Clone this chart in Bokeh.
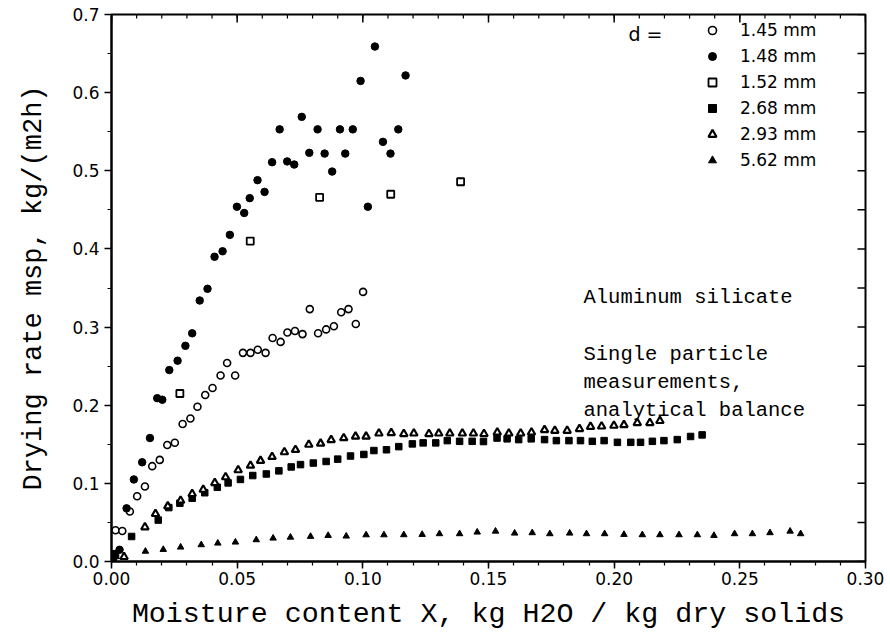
import math
from bokeh.plotting import figure
from bokeh.models import (Legend, LegendItem, Label, FixedTicker,
                          PrintfTickFormatter, Range1d)
from bokeh.embed import file_html
from bokeh.resources import INLINE

# ---------------- data ----------------
x_ticks = [0.0, 0.05, 0.10, 0.15, 0.20, 0.25, 0.30]
y_ticks = [0.0, 0.1, 0.2, 0.3, 0.4, 0.5, 0.6, 0.7]
x_minor = [i / 100 for i in range(31)]
y_minor = [i / 20 for i in range(15)]

labels = ["1.45 mm", "1.48 mm", "1.52 mm", "2.68 mm", "2.93 mm", "5.62 mm"]

x145 = [0.0016, 0.0043, 0.0073, 0.0102, 0.0133, 0.0162, 0.0192, 0.0222, 0.0252, 0.0283,
        0.0314, 0.0342, 0.0373, 0.0402, 0.0434, 0.046, 0.0492, 0.0523, 0.0553, 0.0582,
        0.0613, 0.0641, 0.0673, 0.070, 0.073, 0.076, 0.0789, 0.0822, 0.0854, 0.0885,
        0.0914, 0.0943, 0.0972, 0.1001]
y145 = [0.040, 0.039, 0.064, 0.0835, 0.096, 0.122, 0.130, 0.149, 0.152, 0.176,
        0.183, 0.198, 0.213, 0.222, 0.238, 0.254, 0.238, 0.267, 0.267, 0.271,
        0.267, 0.286, 0.281, 0.293, 0.295, 0.291, 0.323, 0.292, 0.297, 0.301,
        0.319, 0.323, 0.304, 0.345]

x148 = [0.0007, 0.0032, 0.006, 0.0089, 0.0122, 0.0153, 0.0182, 0.0202, 0.023, 0.0263,
        0.0294, 0.0321, 0.0351, 0.0382, 0.041, 0.0442, 0.0471, 0.0499, 0.0528, 0.055,
        0.0581, 0.0609, 0.0639, 0.0669, 0.0699, 0.0727, 0.0757, 0.0787, 0.082, 0.0848,
        0.0878, 0.0909, 0.093, 0.096, 0.0991, 0.102, 0.1048, 0.108, 0.111, 0.1141, 0.117]
y148 = [0.004, 0.015, 0.068, 0.105, 0.127, 0.158, 0.209, 0.207, 0.245, 0.257,
        0.276, 0.292, 0.334, 0.349, 0.390, 0.397, 0.418, 0.454, 0.446, 0.465,
        0.488, 0.473, 0.511, 0.553, 0.512, 0.508, 0.569, 0.523, 0.553, 0.522,
        0.499, 0.553, 0.522, 0.553, 0.615, 0.454, 0.659, 0.537, 0.522, 0.553, 0.622]

x152 = [0.0272, 0.0552, 0.0828, 0.1111, 0.1389]
y152 = [0.215, 0.410, 0.466, 0.470, 0.486]

x268 = [0.0016, 0.008, 0.0186, 0.0228, 0.0272, 0.0321, 0.0371, 0.0421, 0.0464, 0.0513,
        0.0562, 0.0616, 0.0666, 0.0715, 0.0752, 0.0803, 0.0854, 0.09, 0.0951, 0.1004,
        0.1044, 0.1094, 0.1143, 0.1197, 0.124, 0.129, 0.1336, 0.1385, 0.1435, 0.148,
        0.1534, 0.1574, 0.162, 0.167, 0.1723, 0.177, 0.182, 0.1866, 0.1913, 0.196,
        0.2013, 0.2066, 0.2105, 0.2152, 0.2198, 0.2251, 0.2304, 0.235]
y268 = [0.010, 0.032, 0.053, 0.069, 0.0746, 0.081, 0.088, 0.095, 0.1006, 0.105,
        0.110, 0.112, 0.116, 0.121, 0.124, 0.126, 0.128, 0.131, 0.135, 0.137,
        0.142, 0.143, 0.147, 0.1505, 0.1518, 0.1518, 0.1547, 0.1538, 0.1538, 0.1535,
        0.158, 0.157, 0.156, 0.157, 0.156, 0.1547, 0.1547, 0.1547, 0.1538, 0.1547,
        0.1525, 0.1525, 0.1525, 0.1538, 0.1547, 0.156, 0.160, 0.162]

x293 = [0.005, 0.0133, 0.0175, 0.0224, 0.0275, 0.0321, 0.0365, 0.0411, 0.0454, 0.0504,
        0.0553, 0.0593, 0.0639, 0.0688, 0.0732, 0.0785, 0.0832, 0.0874, 0.0924, 0.0971,
        0.1013, 0.1064, 0.1113, 0.1163, 0.1203, 0.1263, 0.1302, 0.1346, 0.1396, 0.144,
        0.1482, 0.1535, 0.1581, 0.1628, 0.1671, 0.1723, 0.1764, 0.1813, 0.1862, 0.1906,
        0.195, 0.1999, 0.2039, 0.2092, 0.2142, 0.2182]
y293 = [0.006, 0.044, 0.061, 0.0707, 0.078, 0.0866, 0.092, 0.1006, 0.108, 0.117,
        0.1228, 0.129, 0.134, 0.140, 0.143, 0.1496, 0.151, 0.1556, 0.158, 0.160,
        0.160, 0.164, 0.1646, 0.1633, 0.164, 0.1633, 0.164, 0.164, 0.164, 0.164,
        0.1633, 0.1653, 0.164, 0.164, 0.1653, 0.1684, 0.1675, 0.1675, 0.1697, 0.1726,
        0.173, 0.1739, 0.1748, 0.1774, 0.1774, 0.180]

x562 = [0.0019, 0.0135, 0.0206, 0.0275, 0.0357, 0.0423, 0.0493, 0.0576, 0.0643, 0.0712,
        0.0792, 0.0862, 0.0934, 0.1013, 0.1084, 0.1163, 0.1236, 0.1305, 0.1385, 0.1455,
        0.1528, 0.1604, 0.1674, 0.1744, 0.1823, 0.189, 0.1962, 0.2039, 0.2112, 0.2182,
        0.2258, 0.2331, 0.2397, 0.2479, 0.255, 0.262, 0.270, 0.2742]
y562 = [0.006, 0.013, 0.0153, 0.0183, 0.0213, 0.0234, 0.0247, 0.0277, 0.0298, 0.031,
        0.032, 0.0332, 0.0324, 0.034, 0.034, 0.0341, 0.0345, 0.0354, 0.0354, 0.0375,
        0.0387, 0.0362, 0.0367, 0.0354, 0.0362, 0.0354, 0.0354, 0.0345, 0.0341, 0.0341,
        0.0341, 0.0341, 0.0332, 0.0354, 0.0354, 0.0367, 0.0387, 0.0354]

x_label = "Moisture content X, kg H2O / kg dry solids"
y_label = "Drying rate msp, kg/(m2h)"
note1 = "Aluminum silicate"
note2 = ["Single particle", "measurements,", "analytical balance"]

# ---------------- figure ----------------
MONO = "Liberation Mono"
SANS = "DejaVu Sans"
X0, X1, Y0, Y1 = 0.0, 0.30, 0.0, 0.70

p = figure(width=890, height=636, output_backend="svg", toolbar_location=None,
           x_range=Range1d(X0, X1), y_range=Range1d(Y0, Y1),
           min_border_left=111, min_border_right=25, min_border_top=14,
           min_border_bottom=75)
p.grid.visible = False
p.outline_line_color = "black"
p.outline_line_width = 2
p.background_fill_color = "white"
p.border_fill_color = "white"

xa = p.xaxis[0]
xa.ticker = FixedTicker(ticks=x_ticks, minor_ticks=x_minor)
xa.formatter = PrintfTickFormatter(format="%.2f")
ya = p.yaxis[0]
ya.ticker = FixedTicker(ticks=y_ticks, minor_ticks=y_minor)
ya.formatter = PrintfTickFormatter(format="%.1f")

for ax in (xa, ya):
    ax.axis_line_width = 2
    ax.axis_line_color = "black"
    ax.major_tick_line_width = 1.5
    ax.minor_tick_line_width = 1.2
    ax.major_tick_out = 7
    ax.major_tick_in = 0
    ax.minor_tick_out = 4
    ax.minor_tick_in = 0
    ax.major_label_text_font = SANS
    ax.major_label_text_font_size = "17px"
    ax.major_label_text_color = "black"
    ax.axis_label_text_font = MONO
    ax.axis_label_text_font_style = "normal"
    ax.axis_label_text_color = "black"

xa.axis_label = x_label
xa.axis_label_text_font_size = "28.3px"
xa.major_label_standoff = 3
xa.axis_label_standoff = 10
ya.axis_label = y_label
ya.axis_label_text_font_size = "27px"
ya.major_label_standoff = 5
ya.axis_label_standoff = 20

# inward ticks along the top and right frame edges
p.ray(x=x_ticks, y=[Y1] * len(x_ticks), length=8, length_units="screen",
      angle=-math.pi / 2, line_color="black", line_width=1.5)
p.ray(x=x_minor, y=[Y1] * len(x_minor), length=4, length_units="screen",
      angle=-math.pi / 2, line_color="black", line_width=1.2)
p.ray(x=[X1] * len(y_minor), y=y_minor, length=8, length_units="screen",
      angle=math.pi, line_color="black", line_width=1.5)

r1 = p.scatter(x145, y145, marker="circle", size=7, fill_color="white",
               line_color="black", line_width=1.6)
r2 = p.scatter(x148, y148, marker="circle", size=7.5, fill_color="black",
               line_color="black")
r3 = p.scatter(x152, y152, marker="square", size=7, fill_color="white",
               line_color="black", line_width=1.8)
r4 = p.scatter(x268, y268, marker="square", size=6.5, fill_color="black",
               line_color="black")
r5 = p.scatter(x293, y293, marker="triangle", size=7.5, fill_color="white",
               line_color="black", line_width=2.2)
r6 = p.scatter(x562, y562, marker="triangle", size=6.5, fill_color="black",
               line_color="black")

renderers = [r1, r2, r3, r4, r5, r6]
legend = Legend(items=[LegendItem(label=l, renderers=[r]) for l, r in zip(labels, renderers)],
                location=(591, 391), margin=0, padding=0, spacing=6,
                glyph_height=20, glyph_width=20, label_height=20,
                label_standoff=18, label_text_font=SANS, label_text_font_size="17px",
                label_text_color="black", border_line_alpha=0,
                background_fill_alpha=0)
p.add_layout(legend, "center")

p.add_layout(Label(x=0.2057, y=0.675, text="d =", text_font=SANS,
                   text_font_size="19px", text_baseline="middle", text_color="black"))

p.add_layout(Label(x=0.1878, y=0.3376, text=note1, text_font=MONO,
                   text_font_size="20.5px", text_baseline="middle", text_color="black"))
for i, t in enumerate(note2):
    p.add_layout(Label(x=0.1878, y=0.2647 - i * 0.0358, text=t, text_font=MONO,
                       text_font_size="20.5px", text_baseline="middle",
                       text_color="black"))

open("out.html", "w").write(file_html(p, INLINE))
